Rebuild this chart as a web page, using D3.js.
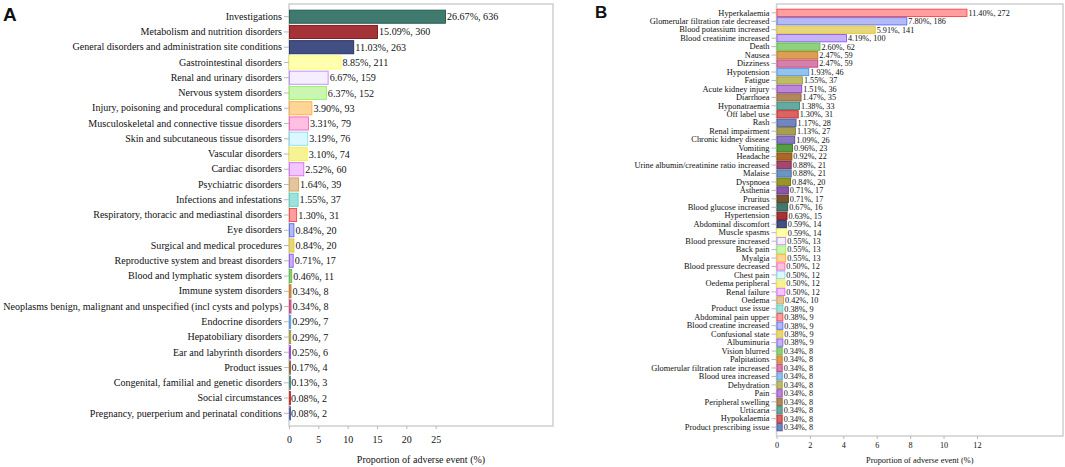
<!DOCTYPE html>
<html lang="en">
<head>
<meta charset="UTF-8">
<title>Proportion of adverse events</title>
<script src="https://d3js.org/d3.v7.min.js"></script>
<style>
  body { margin: 0; background: #fff; }
  svg { display: block; font-family: "Liberation Serif", "Times New Roman", serif; }
  .frame { fill: none; stroke: #cfcfcf; stroke-width: 1.5px; }
  .axis path { display: none; }
  .axis line { stroke: #b8b8b8; }
  .axis text { fill: #111; }
  .tag { font-family: "Liberation Sans", Arial, sans-serif; font-weight: bold; fill: #111; }
</style>
</head>
<body>
<svg></svg>
<script>
const [width, height] = [1065, 467]

// panel A: system organ classes
const catsA = ["Investigations", "Metabolism and nutrition disorders",
  "General disorders and administration site conditions", "Gastrointestinal disorders",
  "Renal and urinary disorders", "Nervous system disorders",
  "Injury, poisoning and procedural complications", "Musculoskeletal and connective tissue disorders",
  "Skin and subcutaneous tissue disorders", "Vascular disorders", "Cardiac disorders",
  "Psychiatric disorders", "Infections and infestations", "Respiratory, thoracic and mediastinal disorders",
  "Eye disorders", "Surgical and medical procedures", "Reproductive system and breast disorders",
  "Blood and lymphatic system disorders", "Immune system disorders",
  "Neoplasms benign, malignant and unspecified (incl cysts and polyps)", "Endocrine disorders",
  "Hepatobiliary disorders", "Ear and labyrinth disorders", "Product issues",
  "Congenital, familial and genetic disorders", "Social circumstances",
  "Pregnancy, puerperium and perinatal conditions"]
const pctA = [26.67, 15.09, 11.03, 8.85, 6.67, 6.37, 3.90, 3.31, 3.19, 3.10, 2.52, 1.64, 1.55, 1.30,
  0.84, 0.84, 0.71, 0.46, 0.34, 0.34, 0.29, 0.29, 0.25, 0.17, 0.13, 0.08, 0.08]
const countA = [636, 360, 263, 211, 159, 152, 93, 79, 76, 74, 60, 39, 37, 31,
  20, 20, 17, 11, 8, 8, 7, 7, 6, 4, 3, 2, 2]
const ticksA = [0, 5, 10, 15, 20, 25]

// panel B: preferred terms
const catsB = ["Hyperkalaemia", "Glomerular filtration rate decreased", "Blood potassium increased",
  "Blood creatinine increased", "Death", "Nausea", "Dizziness", "Hypotension", "Fatigue",
  "Acute kidney injury", "Diarrhoea", "Hyponatraemia", "Off label use", "Rash", "Renal impairment",
  "Chronic kidney disease", "Vomiting", "Headache", "Urine albumin/creatinine ratio increased",
  "Malaise", "Dyspnoea", "Asthenia", "Pruritus", "Blood glucose increased", "Hypertension",
  "Abdominal discomfort", "Muscle spasms", "Blood pressure increased", "Back pain", "Myalgia",
  "Blood pressure decreased", "Chest pain", "Oedema peripheral", "Renal failure", "Oedema",
  "Product use issue", "Abdominal pain upper", "Blood creatine increased", "Confusional state",
  "Albuminuria", "Vision blurred", "Palpitations", "Glomerular filtration rate increased",
  "Blood urea increased", "Dehydration", "Pain", "Peripheral swelling", "Urticaria",
  "Hypokalaemia", "Product prescribing issue"]
const pctB = [11.40, 7.80, 5.91, 4.19, 2.60, 2.47, 2.47, 1.93, 1.55, 1.51, 1.47, 1.38, 1.30, 1.17,
  1.13, 1.09, 0.96, 0.92, 0.88, 0.88, 0.84, 0.71, 0.71, 0.67, 0.63, 0.59, 0.59, 0.55, 0.55, 0.55,
  0.50, 0.50, 0.50, 0.50, 0.42, 0.38, 0.38, 0.38, 0.38, 0.38, 0.34, 0.34, 0.34, 0.34, 0.34, 0.34,
  0.34, 0.34, 0.34, 0.34]
const countB = [272, 186, 141, 100, 62, 59, 59, 46, 37, 36, 35, 33, 31, 28, 27, 26, 23, 22, 21, 21,
  20, 17, 17, 16, 15, 14, 14, 13, 13, 13, 12, 12, 12, 12, 10, 9, 9, 9, 9, 9, 8, 8, 8, 8, 8, 8,
  8, 8, 8, 8]
const ticksB = [0, 2, 4, 6, 8, 10, 12]

// the bar colours cycle through this list, each panel starts somewhere else in it
const palette = ["#ff9494", "#aab4f6", "#e6d26e", "#c2aaf6", "#82cc72", "#d89242", "#d072a0",
  "#8cbae8", "#b8b652", "#b27ad8", "#a87a4a", "#52a298", "#d85252", "#6278b8", "#a09240",
  "#7a6aba", "#42922e", "#a0580e", "#9a3262", "#5a8abc", "#8a8a12", "#7a42a0", "#6a4218",
  "#2b6a5d", "#9a1c20", "#2e3c78", "#ffffa6", "#f4ecff", "#c4f5a8", "#ffd08c", "#ffb8e0",
  "#d8f6ff", "#f6f28a", "#f0c0ff", "#e0c092", "#92e0d8"]

const svg = d3.select("svg").attr("width", width).attr("height", height)

const edge = c => {
  const h = d3.hsl(c)
  h.l *= 0.8
  h.s = Math.min(1, h.s * 1.1)
  return h.formatHex()
}

function panel(o) {
  const g = svg.append("g")
  const x = d3.scaleLinear().domain([0, o.xMax]).range([o.left, o.right])
  const y = d3.scaleBand().domain(o.cats).range([o.top + o.pad, o.bottom - o.pad]).padding(0.14)
  const colour = i => palette[(i + o.offset) % palette.length]

  g.append("rect").attr("class", "frame")
    .attr("x", o.left).attr("y", o.top)
    .attr("width", o.right - o.left).attr("height", o.bottom - o.top)

  g.selectAll(".bar").data(o.cats).join("rect").attr("class", "bar")
    .attr("x", x(0) + 0.5)
    .attr("y", d => y(d))
    .attr("width", (d, i) => Math.max(1, x(o.pct[i]) - x(0) - 0.5))
    .attr("height", y.bandwidth())
    .attr("fill", (d, i) => colour(i))
    .attr("fill-opacity", 0.9)
    .attr("stroke", (d, i) => edge(colour(i)))
    .attr("stroke-width", 0.9)

  g.selectAll(".val").data(o.cats).join("text").attr("class", "val")
    .attr("x", (d, i) => x(o.pct[i]) + 1.5)
    .attr("y", d => y(d) + y.bandwidth() / 2)
    .attr("dy", "0.35em")
    .attr("font-size", o.valFs)
    .attr("fill", "#111")
    .text((d, i) => `${o.pct[i].toFixed(2)}%, ${o.count[i]}`)

  g.append("g").attr("class", "axis")
    .attr("transform", `translate(${o.left},0)`)
    .call(d3.axisLeft(y).tickSize(5).tickPadding(2))
    .attr("font-family", null).attr("font-size", o.fs)

  g.append("g").attr("class", "axis")
    .attr("transform", `translate(0,${o.bottom})`)
    .call(d3.axisBottom(x).tickValues(o.ticks).tickSize(3).tickPadding(o.tickPad))
    .attr("font-family", null).attr("font-size", o.tickFs)

  g.append("text")
    .attr("x", (o.left + o.right) / 2).attr("y", o.titleY)
    .attr("text-anchor", "middle").attr("font-size", o.titleFs).attr("fill", "#111")
    .text("Proportion of adverse event (%)")

  g.append("text").attr("class", "tag")
    .attr("x", o.tagX).attr("y", o.tagY).attr("font-size", o.tagFs)
    .text(o.tag)
}

panel({cats: catsA, pct: pctA, count: countA, ticks: ticksA, xMax: 45,
  left: 289, right: 553, top: 4, bottom: 426, pad: 4,
  fs: 10.05, valFs: 10.1, tickFs: 10, tickPad: 7, titleFs: 10, titleY: 463, offset: 23,
  tag: "A", tagX: 3, tagY: 21, tagFs: 19})

panel({cats: catsB, pct: pctB, count: countB, ticks: ticksB, xMax: 17.15,
  left: 776.5, right: 1063, top: 4, bottom: 436, pad: 4,
  fs: 8.4, valFs: 8.2, tickFs: 8.2, tickPad: 3, titleFs: 8.4, titleY: 463, offset: 0,
  tag: "B", tagX: 595, tagY: 17.5, tagFs: 17})
</script>
</body>
</html>
